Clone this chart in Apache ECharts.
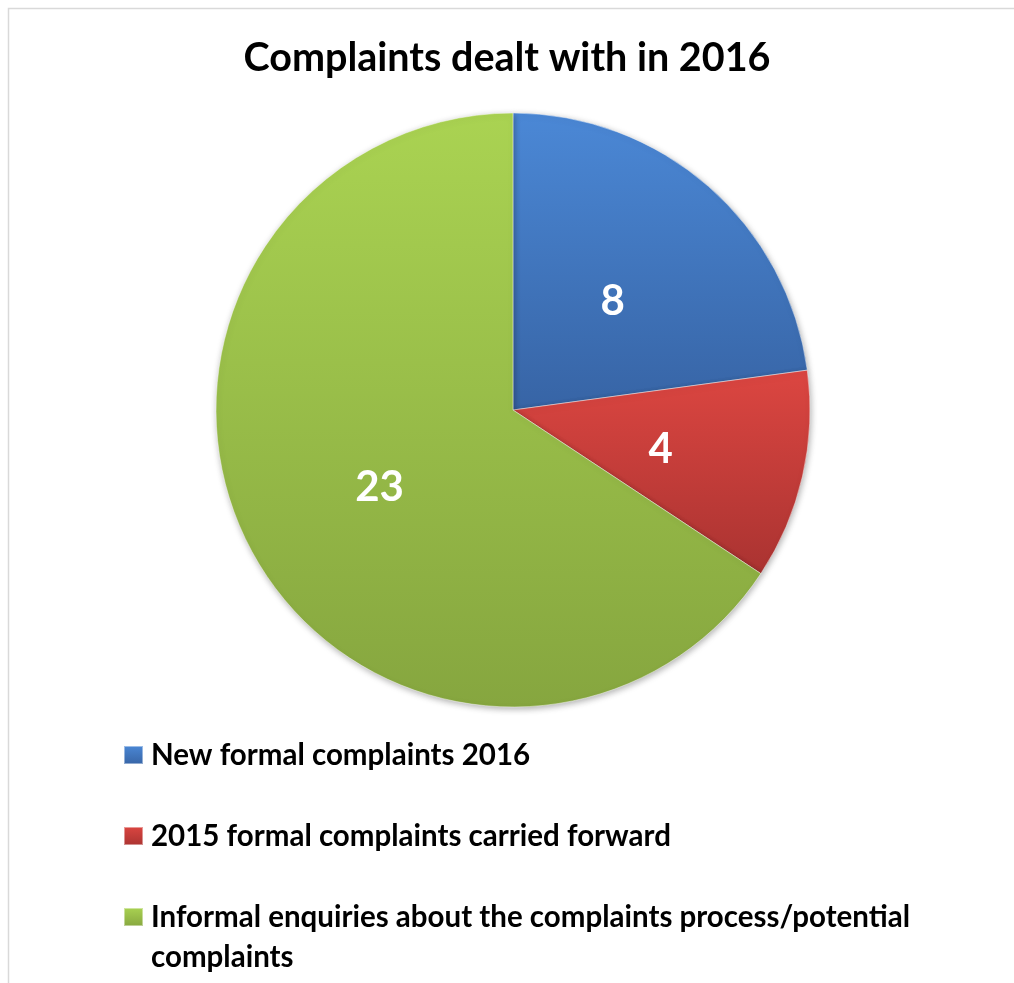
<!DOCTYPE html>
<html><head><meta charset="utf-8">
<script src="https://cdn.jsdelivr.net/npm/echarts@6/dist/echarts.min.js"></script>
<style>html,body{margin:0;padding:0;background:#fff}#c{width:1014px;height:983px}</style>
</head><body><div id="c"></div>
<script>
const titleText = 'Complaints dealt with in 2016';
const categories = ['New formal complaints 2016', '2015 formal complaints carried forward', 'Informal enquiries about the complaints process/potential complaints'];
const values = [8, 4, 23];
const colorsTop = ['#4b88d6', '#dc4641', '#aad352'];
const colorsBottom = ['#3764a5', '#aa3331', '#86a63f'];

const chart = echarts.init(document.getElementById('c'));
const font = 'Lato, "Open Sans", sans-serif';
const legendRich = {fontFamily:font, fontWeight:'bold', fontSize:29.5, color:'#000', lineHeight:40};
chart.setOption({
  backgroundColor: '#fff',
  animation: false,
  graphic: [{type:'rect', shape:{x:8.5,y:8.5,width:1030,height:1000}, style:{fill:'none', stroke:'#d9d9d9', lineWidth:1.5}, silent:true, z:-1}],
  title: {text: titleText, left: 'center', top: 33, textStyle:{fontFamily:font, fontWeight:'bold', fontSize:39.5, color:'#000'}},
  legend: {
    orient:'vertical', left:123, top:735, height:400, padding:0, itemWidth:19, itemHeight:18, itemGap:41, icon:'rect',
    formatter: name => '{a|' + name + '}',
    data: categories.map((n,i)=> i===2 ? {name:n, textStyle:{padding:[0,0,-40,3]}} : {name:n}),
    textStyle:{fontFamily:font, fontWeight:'bold', fontSize:29.5, color:'#000', lineHeight:40, width:790, overflow:'break', padding:[0,0,0,3], rich:{a:legendRich}}
  },
  series: [{
    type:'pie', center:[513,410], radius:[0,297], startAngle:90, clockwise:true,
    label:{show:true, position:'inside', formatter:'{v|{c}}', rich:{v:{color:'#fff', fontFamily:font, fontWeight:'bold', fontSize:42, lineHeight:50}}, padding:[12,0,0,0]},
    labelLine:{show:false},
    emphasis:{disabled:true},
    itemStyle:{borderColor:'rgba(255,255,255,0.45)', borderWidth:1, shadowBlur:6, shadowColor:'rgba(0,0,0,0.3)', shadowOffsetX:1, shadowOffsetY:2},
    data: categories.map((n,i)=>({name:n, value:values[i], itemStyle:{color:new echarts.graphic.LinearGradient(0,0,0,1,[{offset:0,color:colorsTop[i]},{offset:1,color:colorsBottom[i]}])}}))
  }]
});
</script></body></html>
